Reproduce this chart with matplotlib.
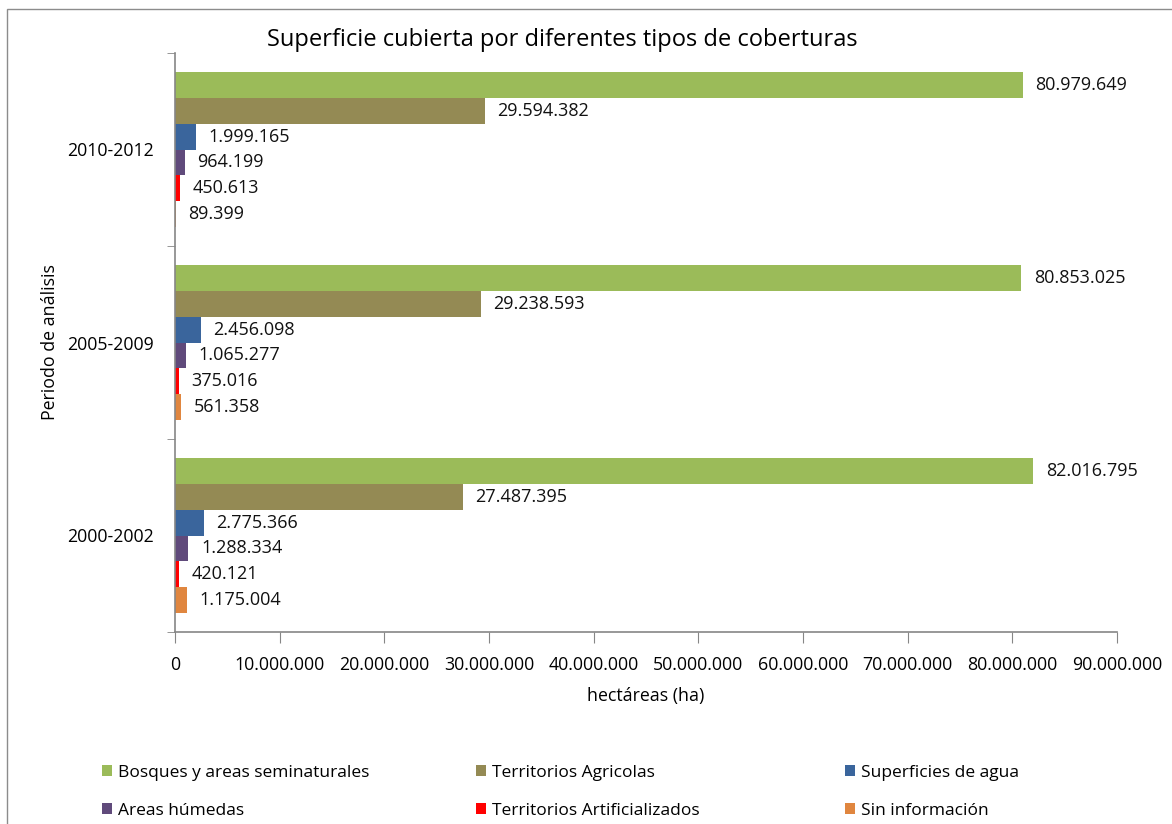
import matplotlib
matplotlib.use("Agg")
import matplotlib.pyplot as plt
import numpy as np
from matplotlib.patches import Rectangle, Patch

plt.rcParams['font.family'] = ['Open Sans', 'DejaVu Sans']

periods = ["2000-2002", "2005-2009", "2010-2012"]
series_names = ["Bosques y areas seminaturales", "Territorios Agricolas", "Superficies de agua",
                "Areas húmedas", "Territorios Artificializados", "Sin información"]
colors = ["#9BBB59", "#948A54", "#3A659C", "#604A7B", "#FF0000", "#E0863F"]

bosques = [82016795, 80853025, 80979649]
agricolas = [27487395, 29238593, 29594382]
agua = [2775366, 2456098, 1999165]
humedas = [1288334, 1065277, 964199]
artificializados = [420121, 375016, 450613]
sin_info = [1175004, 561358, 89399]
series_values = [bosques, agricolas, agua, humedas, artificializados, sin_info]

xticks = [0, 10000000, 20000000, 30000000, 40000000, 50000000, 60000000, 70000000, 80000000, 90000000]


def fmt(v):
    return f"{int(v):,}".replace(",", ".")


W, H = 1172, 824
fig = plt.figure(figsize=(W / 100, H / 100), dpi=100)
ax = fig.add_axes([175 / W, 1 - 632 / H, (1117 - 175) / W, (632 - 53) / H])

y = np.arange(len(periods))
h = 0.134
for i, (name, vals, c) in enumerate(zip(series_names, series_values, colors)):
    pos = y + (2.5 - i) * h
    bars = ax.barh(pos, vals, height=h, color=c, label=name)
    ax.bar_label(bars, labels=[fmt(v) for v in vals], padding=9, fontsize=13, color="#111111")

ax.set_xlim(0, 90000000)
ax.set_ylim(-0.5, 2.5)
ax.set_xticks(xticks)
ax.set_xticklabels([fmt(v) for v in xticks], fontsize=12.8)
ax.set_yticks(y)
ax.set_yticklabels(periods, fontsize=12.8)
ax.set_yticks([-0.5, 0.5, 1.5, 2.5], minor=True)
ax.tick_params(axis='y', which='major', length=0, pad=15)
ax.tick_params(axis='y', which='minor', length=6, color="#868686", direction='out')
ax.tick_params(axis='x', length=8, color="#868686", direction='out', pad=9)

for s in ['top', 'right']:
    ax.spines[s].set_visible(False)
for s in ['left', 'bottom']:
    ax.spines[s].set_color("#868686")
    ax.spines[s].set_linewidth(1.2)

ax.set_xlabel("hectáreas (ha)", fontsize=12.8, labelpad=10)

fig.text(562 / W, 1 - 40 / H, "Superficie cubierta por diferentes tipos de coberturas",
         ha='center', va='center', fontsize=17)
fig.text(50 / W, 1 - 342 / H, "Periodo de análisis", rotation=90,
         ha='center', va='center', fontsize=12.8)

# legend: three columns, placed individually
col_x = [102, 476, 845]
col_items = [[0, 3], [1, 4], [2, 5]]
for cx, items in zip(col_x, col_items):
    handles = [Patch(facecolor=colors[k], edgecolor='none') for k in items]
    labels = [series_names[k] for k in items]
    fig.legend(handles, labels, loc='upper left', bbox_to_anchor=(cx / W, 1 - 765 / H),
               frameon=False, fontsize=12.5, handlelength=0.6, handleheight=0.6,
               handletextpad=0.3, labelspacing=1.27, borderpad=0, borderaxespad=0)

fig.patches.append(Rectangle((7 / W, -0.05), 1.2, 1 - 9 / H + 0.05, transform=fig.transFigure,
                             fill=False, edgecolor="#8C8C8C", linewidth=1))

fig.savefig("out.png", dpi=100)
